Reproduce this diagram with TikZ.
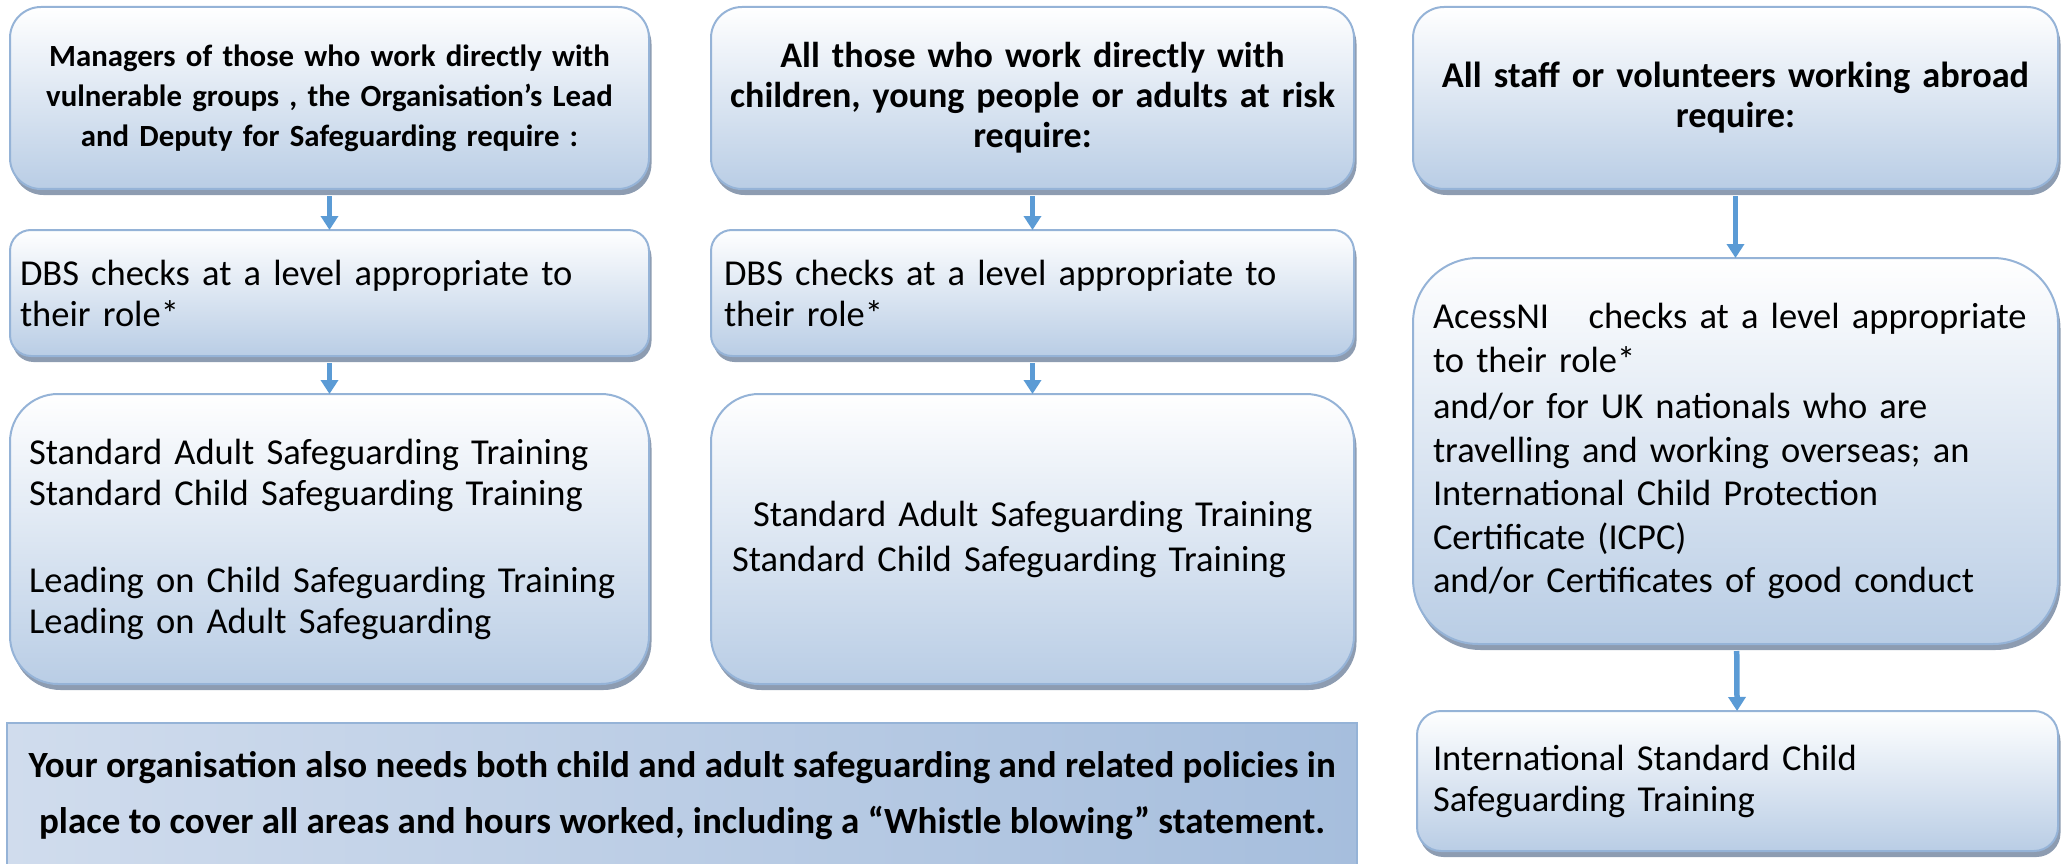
\documentclass[tikz,border=0pt]{standalone}
\usepackage{fontspec}
\setmainfont{Carlito}
\usetikzlibrary{arrows.meta,shadows}
\definecolor{boxbot}{HTML}{B9CDE5}
\definecolor{boxline}{HTML}{95B3D7}
\definecolor{shadowc}{HTML}{8D9CB1}
\definecolor{arrowc}{HTML}{5B9BD5}
\definecolor{notel}{HTML}{D0DCED}
\definecolor{notem}{HTML}{D8E2F0}
\definecolor{noter}{HTML}{A6BEDD}
\tikzset{
  card/.style={rounded corners=#1, draw=boxline, line width=2pt,
    top color=white, bottom color=boxbot,
    drop shadow={shadow xshift=2.5pt, shadow yshift=-6pt, fill=shadowc, opacity=1},
    inner ysep=0pt, outer sep=0pt},
  headtxt/.style={font=\bfseries\fontsize{#1}{40}\selectfont, align=center},
  bodytxt/.style={font=\fontsize{36.5}{41}\selectfont, align=left},
  flow/.style={draw=arrowc, line width=5.5pt, -{Triangle[width=17pt,length=14pt]}, shorten <=7pt},
}
\begin{document}
\begin{tikzpicture}[x=1pt,y=-1pt]
\useasboundingbox (0,0) rectangle (2065,864);
% column 1
\node[card=31pt, headtxt=30.8, minimum width=639pt, minimum height=182pt, text width=620pt, inner xsep=9.5pt] (a1) at (329.5,98)
  {Managers of those who work directly with\\vulnerable groups , the Organisation’s Lead\\and Deputy for Safeguarding require :};
\node[card=21pt, bodytxt, minimum width=639pt, minimum height=126pt, text width=619pt, inner xsep=10pt] (a2) at (329.5,293)
  {DBS checks at a level appropriate to\\their role*};
\node[card=48pt, bodytxt, minimum width=639pt, minimum height=290pt, text width=611pt, inner xsep=14pt] (a3) at (329.5,539)
  {\hspace*{5pt}Standard Adult Safeguarding Training\\\hspace*{5pt}Standard Child Safeguarding Training\\[46pt]\hspace*{5pt}Leading on Child Safeguarding Training\\\hspace*{5pt}Leading on Adult Safeguarding};
% column 2
\node[card=31pt, headtxt=36, minimum width=643pt, minimum height=182pt, text width=623pt, inner xsep=10pt] (b1) at (1032.5,98)
  {All those who work directly with\\children, young people or adults at risk\\require:};
\node[card=21pt, bodytxt, minimum width=643pt, minimum height=126pt, text width=623pt, inner xsep=10pt] (b2) at (1032.5,293)
  {\hspace*{3pt}DBS checks at a level appropriate to\\\hspace*{3pt}their role*};
\node[card=48pt, font=\fontsize{36.5}{45}\selectfont, align=left, minimum width=643pt, minimum height=290pt, text width=623pt, inner xsep=10pt] (b3) at (1032.5,539)
  {\hspace*{32pt}Standard Adult Safeguarding Training\\\hspace*{11pt}Standard Child Safeguarding Training};
% column 3
\node[card=31pt, headtxt=36.3, minimum width=645pt, minimum height=182pt, text width=625pt, inner xsep=10pt] (c1) at (1735.5,98)
  {All staff or volunteers working abroad\\require:};
\node[card=65pt, font=\fontsize{36.5}{43.5}\selectfont, align=left, minimum width=645pt, minimum height=386pt, text width=625pt, inner xsep=10pt] (c2) at (1735.5,451)
  {\hspace*{10pt}AcessNI\hspace{0.75em} checks at a level appropriate\\\hspace*{10pt}to their role*\\[3pt]\hspace*{10pt}and/or for UK nationals who are\\\hspace*{10pt}travelling and working overseas; an\\\hspace*{10pt}International Child Protection\\\hspace*{10pt}Certificate (ICPC)\\\hspace*{10pt}and/or Certificates of good conduct};
\node[card=24pt, bodytxt, minimum width=641pt, minimum height=140pt, text width=621pt, inner xsep=10pt] (c3) at (1737.5,781)
  {\hspace*{6pt}International Standard Child\\\hspace*{6pt}Safeguarding Training};
% bottom note
\node[draw=boxline, line width=2pt, left color=notel, middle color=notem, right color=noter,
  minimum width=1350pt, minimum height=146pt, inner sep=0pt,
  font=\bfseries\fontsize{37}{56}\selectfont, align=center] (note) at (682,796)
  {Your organisation also needs both child and adult safeguarding and related policies in\\ place to cover all areas and hours worked, including a “Whistle blowing” statement.};
% connectors
\draw[flow] (a1) -- (a2);
\draw[flow] (a2) -- (a3);
\draw[flow] (b1) -- (b2);
\draw[flow] (b2) -- (b3);
\draw[flow] (c1) -- (c2);
\draw[flow] (c2) -- (c3);
\end{tikzpicture}
\end{document}
